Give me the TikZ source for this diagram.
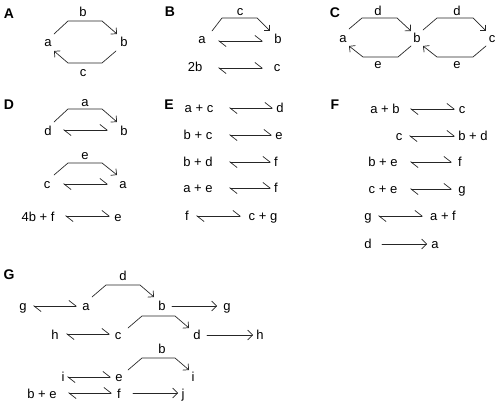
\documentclass[tikz,border=0pt]{standalone}
\usepackage{fontspec}
\setmainfont{Liberation Sans}
\usetikzlibrary{arrows.meta,calc}
\begin{document}
\begin{tikzpicture}[x=1pt,y=-1pt,
  lb/.style={font=\fontsize{13}{15}\selectfont, inner sep=0pt, text height=9.5pt, text depth=2.7pt},
  pl/.style={font=\fontsize{14}{16}\selectfont\bfseries, inner sep=0pt},
  ln/.style={line width=0.7pt, line cap=round, line join=round, draw=black!85},
  hk/.style={ln, -{Straight Barb[angle=90:6pt]}},
  fa/.style={ln, -{Straight Barb[angle=90:7pt]}},
  eq/.style={ln, {Straight Barb[left,angle=76:9pt]}-{Straight Barb[left,angle=76:9pt]}}]
\useasboundingbox (0,0) rectangle (498,414);

% ---------- A
\node[pl] (pA) at (9,14) {A};
\node[lb] (Aa) at (48,43) {a};
\node[lb] (Ab) at (124,43) {b};
\node[lb] (Atop) at (83,13) {b};
\node[lb] (Abot) at (83,73) {c};
\draw[hk] ($(Aa)+(6,-9)$) -- ($(Aa)+(20,-22)$) -- ($(Ab)+(-22,-22)$) -- ($(Ab)+(-7,-9)$);
\draw[hk] ($(Ab)+(-8,8)$) -- ($(Ab)+(-22,20)$) -- ($(Aa)+(20,20)$) -- ($(Aa)+(6,8)$);

% ---------- B
\node[pl] (pB) at (170,12) {B};
\node[lb] (Bc0) at (240,12) {c};
\node[lb] (Ba) at (202,40) {a};
\node[lb] (Bb) at (278,40) {b};
\node[lb] (B2b) at (195,68) {2b};
\node[lb] (Bc) at (277,68) {c};
\draw[hk] ($(Ba)+(10,-9)$) -- ($(Ba)+(20,-22)$) -- ($(Bb)+(-21,-22)$) -- ($(Bb)+(-8,-9)$);
\draw[eq] ($(Ba)+(16,1)$) -- ($(Bb)+(-15,1)$);
\draw[eq] ($(B2b)+(23,0)$) -- ($(Bc)+(-14,0)$);

% ---------- C
\node[pl] (pC) at (335,13) {C};
\node[lb] (Cd1) at (378,12) {d};
\node[lb] (Cd2) at (457,12) {d};
\node[lb] (Ca) at (343,39) {a};
\node[lb] (Cb) at (417,39) {b};
\node[lb] (Cc) at (492,39) {c};
\node[lb] (Ce1) at (378,65) {e};
\node[lb] (Ce2) at (457,65) {e};
\draw[hk] ($(Ca)+(6,-10)$) -- ($(Ca)+(19,-21)$) -- ($(Cb)+(-20,-21)$) -- ($(Cb)+(-6,-8)$);
\draw[hk] ($(Cb)+(-6,7)$) -- ($(Cb)+(-19,18)$) -- ($(Ca)+(20,18)$) -- ($(Ca)+(6,7)$);
\draw[hk] ($(Cb)+(6,-9)$) -- ($(Cb)+(20,-21)$) -- ($(Cc)+(-19,-21)$) -- ($(Cc)+(-6,-8)$);
\draw[hk] ($(Cc)+(-6,7)$) -- ($(Cc)+(-19,18)$) -- ($(Cb)+(20,18)$) -- ($(Cb)+(6,7)$);

% ---------- D
\node[pl] (pD) at (9,105) {D};
\node[lb] (Dl1) at (85,103) {a};
\node[lb] (Dd) at (48,132) {d};
\node[lb] (Db) at (124,132) {b};
\node[lb] (Dl2) at (85,156) {e};
\node[lb] (Dc) at (47,185) {c};
\node[lb] (Da) at (123,185) {a};
\node[lb] (D4b) at (38,218) {4b + f};
\node[lb] (De) at (118,218) {e};
\draw[hk] ($(Dd)+(6,-10)$) -- ($(Dd)+(20,-23)$) -- ($(Db)+(-22,-23)$) -- ($(Db)+(-7,-10)$);
\draw[eq] ($(Dd)+(15,-2)$) -- ($(Db)+(-16,-2)$);
\draw[hk] ($(Dc)+(7,-10)$) -- ($(Dc)+(21,-22)$) -- ($(Da)+(-21,-22)$) -- ($(Da)+(-6,-10)$);
\draw[eq] ($(Dc)+(16,-1)$) -- ($(Da)+(-15,-1)$);
\draw[eq] ($(D4b)+(27,-2)$) -- ($(De)+(-8,-2)$);

% ---------- E
\node[pl] (pE) at (169,105) {E};
\node[lb] (E1l) at (199,109) {a + c};
\node[lb] (E1r) at (280,109) {d};
\draw[eq] ($(E1l)+(30,-1)$) -- ($(E1r)+(-7,-1)$);
\node[lb] (E2l) at (198,136) {b + c};
\node[lb] (E2r) at (279,136) {e};
\draw[eq] ($(E2l)+(31,-1)$) -- ($(E2r)+(-7,-1)$);
\node[lb] (E3l) at (198,163) {b + d};
\node[lb] (E3r) at (276,163) {f};
\draw[eq] ($(E3l)+(31,-1)$) -- ($(E3r)+(-5,-1)$);
\node[lb] (E4l) at (198,189) {a + e};
\node[lb] (E4r) at (276,189) {f};
\draw[eq] ($(E4l)+(31,-1)$) -- ($(E4r)+(-5,-1)$);
\node[lb] (E5l) at (187,217) {f};
\node[lb] (E5r) at (263,217) {c + g};
\draw[eq] ($(E5l)+(9,-1)$) -- ($(E5r)+(-22,-1)$);

% ---------- F
\node[pl] (pF) at (335,105) {F};
\node[lb] (F1l) at (385,110) {a + b};
\node[lb] (F1r) at (462,110) {c};
\draw[eq] ($(F1l)+(25,-1)$) -- ($(F1r)+(-7,-1)$);
\node[lb] (F2l) at (399,137) {c};
\node[lb] (F2r) at (473,137) {b + d};
\draw[eq] ($(F2l)+(10,-1)$) -- ($(F2r)+(-18,-1)$);
\node[lb] (F3l) at (383,163) {b + e};
\node[lb] (F3r) at (460,163) {f};
\draw[eq] ($(F3l)+(27,-1)$) -- ($(F3r)+(-8,-1)$);
\node[lb] (F4l) at (383,190) {c + e};
\node[lb] (F4r) at (462,190) {g};
\draw[eq] ($(F4l)+(27,-1)$) -- ($(F4r)+(-10,-1)$);
\node[lb] (F5l) at (368,217) {g};
\node[lb] (F5r) at (443,217) {a + f};
\draw[eq] ($(F5l)+(10,-1)$) -- ($(F5r)+(-20,-1)$);
\node[lb] (F6l) at (368,245) {d};
\node[lb] (F6r) at (435,245) {a};
\draw[fa] ($(F6l)+(14,-1)$) -- ($(F6r)+(-8,-1)$);

% ---------- G
\node[pl] (pG) at (9,275) {G};
\node[lb] (Gdl) at (123,277) {d};
\node[lb] (Gg1) at (23,307) {g};
\node[lb] (Ga) at (86,307) {a};
\node[lb] (Gb) at (162,307) {b};
\node[lb] (Gg2) at (227,307) {g};
\draw[eq] ($(Gg1)+(10,-1)$) -- ($(Ga)+(-9,-1)$);
\draw[hk] ($(Ga)+(6,-10)$) -- ($(Ga)+(20,-22)$) -- ($(Gb)+(-22,-22)$) -- ($(Gb)+(-8,-10)$);
\draw[fa] ($(Gb)+(10,-1)$) -- ($(Gg2)+(-10,-1)$);
\node[lb] (Gh1) at (55,336) {h};
\node[lb] (Gc) at (118,336) {c};
\node[lb] (Gd) at (197,336) {d};
\node[lb] (Gh2) at (260,336) {h};
\draw[eq] ($(Gh1)+(11,-2)$) -- ($(Gc)+(-8,-2)$);
\draw[hk] ($(Gc)+(10,-8)$) -- ($(Gc)+(24,-20)$) -- ($(Gd)+(-22,-20)$) -- ($(Gd)+(-8,-8)$);
\draw[fa] ($(Gd)+(10,-1)$) -- ($(Gh2)+(-7,-1)$);
\node[lb] (Gbl) at (162,350) {b};
\node[lb] (Gi1) at (63,378) {i};
\node[lb] (Ge) at (119,378) {e};
\node[lb] (Gi2) at (193,378) {i};
\draw[eq] ($(Gi1)+(4,-1)$) -- ($(Ge)+(-8,-1)$);
\draw[hk] ($(Ge)+(9,-8)$) -- ($(Ge)+(23,-20)$) -- ($(Gi2)+(-18,-20)$) -- ($(Gi2)+(-4,-8)$);
\node[lb] (Gbe) at (42,395) {b + e};
\node[lb] (Gf) at (119,395) {f};
\node[lb] (Gj) at (183,395) {j};
\draw[eq] ($(Gbe)+(26,-2)$) -- ($(Gf)+(-7,-2)$);
\draw[fa] ($(Gf)+(14,-2)$) -- ($(Gj)+(-5,-2)$);
\end{tikzpicture}
\end{document}
